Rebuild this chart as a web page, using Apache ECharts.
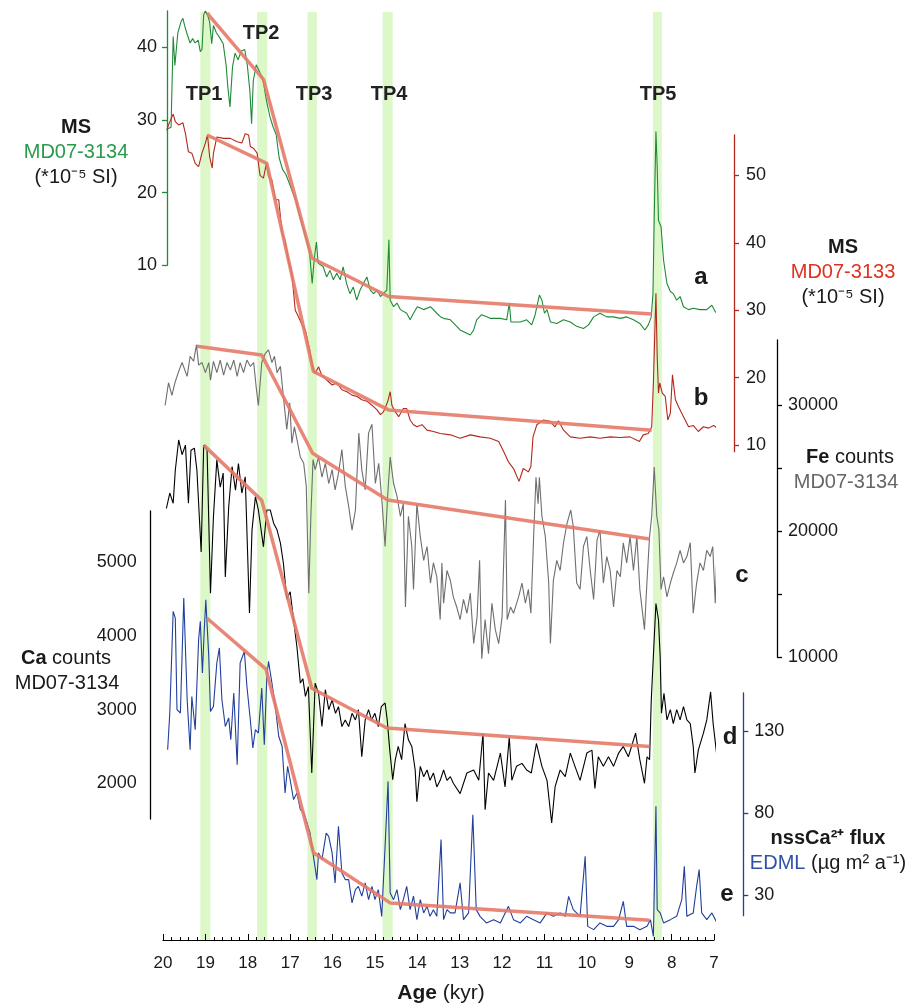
<!DOCTYPE html>
<html><head><meta charset="utf-8">
<script src="https://cdn.jsdelivr.net/npm/echarts@6/dist/echarts.min.js"></script>
<style>html,body{margin:0;padding:0;background:#fff}#c{width:909px;height:1004px}</style>
</head><body><div id="c"></div>
<script>
// ---------- DATA (age in kyr, value) ----------
const xTicks = [7,8,9,10,11,12,13,14,15,16,17,18,19,20];
const tpNames = ['TP1','TP2','TP3','TP4','TP5'];
const tpBands = [[18.88,19.12],[17.54,17.78],[16.37,16.59],[14.58,14.82],[8.23,8.44]];

const msGreen = [[19.89,28.8],[19.81,29.0],[19.76,41.5],[19.72,37.5],[19.65,42.0],[19.57,43.6],[19.53,44.0],[19.49,43.0],[19.43,41.8],[19.36,40.6],[19.30,41.2],[19.24,40.6],[19.17,41.0],[19.12,39.4],[19.08,39.7],[19.04,44.5],[19.00,45.0],[18.95,44.5],[18.90,43.5],[18.85,40.5],[18.81,43.0],[18.74,42.0],[18.66,41.3],[18.58,40.5],[18.51,37.5],[18.47,34.5],[18.42,31.8],[18.36,37.3],[18.30,39.2],[18.23,38.3],[18.15,39.5],[18.07,39.7],[18.01,37.5],[17.95,34.0],[17.91,29.5],[17.87,35.4],[17.80,37.6],[17.72,36.6],[17.64,35.5],[17.56,32.7],[17.48,30.5],[17.40,29.0],[17.33,28.0],[17.26,24.8],[17.18,23.2],[17.10,22.5],[17.02,21.3],[16.94,20.0],[16.86,18.8],[16.78,16.8],[16.70,15.2],[16.62,13.6],[16.54,11.6],[16.48,7.5],[16.43,11.0],[16.38,13.2],[16.34,10.3],[16.22,9.8],[16.14,8.4],[16.06,9.3],[15.98,8.0],[15.90,8.9],[15.82,8.0],[15.75,9.8],[15.67,7.5],[15.59,6.1],[15.51,7.0],[15.43,5.2],[15.35,6.6],[15.27,7.5],[15.19,8.4],[15.11,6.6],[15.03,6.1],[14.95,6.6],[14.87,5.7],[14.80,6.1],[14.72,6.6],[14.67,13.5],[14.64,5.2],[14.56,4.3],[14.48,4.8],[14.40,3.9],[14.25,3.4],[14.17,2.5],[14.09,3.4],[14.00,4.3],[13.85,3.9],[13.69,4.3],[13.54,3.4],[13.45,2.9],[13.38,2.7],[13.22,2.5],[12.99,1.1],[12.75,0.4],[12.67,1.1],[12.60,2.5],[12.48,3.2],[12.28,2.7],[12.04,2.7],[11.89,2.5],[11.83,4.8],[11.79,2.2],[11.57,2.2],[11.42,2.5],[11.30,1.8],[11.22,3.2],[11.12,5.9],[11.06,5.2],[11.00,3.4],[10.94,3.9],[10.86,2.2],[10.71,2.0],[10.55,2.5],[10.39,2.2],[10.24,1.6],[10.08,1.3],[9.96,1.8],[9.84,2.9],[9.69,3.4],[9.53,2.9],[9.37,2.9],[9.21,2.7],[9.06,2.9],[8.90,2.5],[8.75,2.0],[8.63,1.1],[8.55,1.8],[8.48,2.9],[8.44,6.1],[8.41,16.7],[8.37,28.4],[8.34,23.6],[8.31,16.2],[8.25,15.3],[8.19,10.7],[8.11,7.5],[8.03,6.4],[7.96,6.1],[7.88,5.2],[7.80,5.7],[7.72,4.3],[7.60,3.9],[7.49,4.1],[7.33,3.9],[7.17,3.9],[7.05,4.5],[6.97,3.6],[6.86,3.2]];

const msRed = [[19.91,56.7],[19.87,57.5],[19.76,59.1],[19.71,58.0],[19.63,57.5],[19.53,57.8],[19.47,56.2],[19.40,53.5],[19.32,53.3],[19.24,51.8],[19.16,51.3],[19.08,53.3],[19.00,54.8],[18.95,56.0],[18.90,52.8],[18.84,51.1],[18.81,53.3],[18.73,55.7],[18.57,55.5],[18.41,55.5],[18.25,55.0],[18.14,54.8],[18.06,56.2],[17.98,56.0],[17.94,54.3],[17.86,54.0],[17.78,53.3],[17.71,50.0],[17.63,49.6],[17.56,51.8],[17.51,49.8],[17.43,49.3],[17.35,46.4],[17.27,46.4],[17.19,41.4],[17.12,40.4],[17.04,37.4],[16.96,35.4],[16.88,30.0],[16.80,29.0],[16.72,27.8],[16.64,27.0],[16.54,24.1],[16.47,21.6],[16.41,20.6],[16.33,21.6],[16.26,20.4],[16.13,19.6],[16.01,18.9],[15.90,19.2],[15.78,18.2],[15.66,17.9],[15.54,17.4],[15.42,17.2],[15.31,16.7],[15.19,16.5],[15.07,15.9],[14.95,15.2],[14.87,14.5],[14.80,14.9],[14.70,16.4],[14.64,17.9],[14.60,15.9],[14.52,14.9],[14.44,14.2],[14.33,15.4],[14.25,15.4],[14.17,13.7],[14.09,13.0],[14.01,12.7],[13.89,13.0],[13.77,12.2],[13.62,12.0],[13.46,11.7],[13.22,11.5],[12.99,11.0],[12.75,11.5],[12.52,11.2],[12.28,11.0],[12.08,10.5],[11.96,9.0],[11.85,7.5],[11.73,6.5],[11.60,4.6],[11.50,6.5],[11.38,6.0],[11.32,6.8],[11.27,11.2],[11.18,13.0],[11.02,13.7],[10.87,13.5],[10.75,12.7],[10.67,13.6],[10.55,12.2],[10.39,11.2],[10.16,11.0],[9.92,11.2],[9.69,11.0],[9.45,11.2],[9.22,11.1],[8.98,11.2],[8.76,10.5],[8.67,11.5],[8.55,11.7],[8.47,12.7],[8.43,19.2],[8.37,32.5],[8.34,23.1],[8.31,17.7],[8.28,19.2],[8.22,17.7],[8.15,17.2],[8.09,13.7],[8.03,14.7],[7.98,20.4],[7.91,16.7],[7.84,15.7],[7.72,14.2],[7.60,12.7],[7.49,12.9],[7.37,12.0],[7.25,12.7],[7.13,12.5],[7.01,12.9],[6.86,12.2]];

const feCounts = [[19.95,30000],[19.87,31800],[19.79,30800],[19.71,31900],[19.63,32700],[19.55,33400],[19.43,32300],[19.36,33900],[19.28,33500],[19.21,34800],[19.16,33200],[19.08,33400],[19.00,32600],[18.92,33400],[18.88,32000],[18.81,33500],[18.73,32600],[18.65,33600],[18.57,32400],[18.49,33400],[18.41,32800],[18.33,33600],[18.25,32300],[18.18,33400],[18.10,32600],[18.02,33600],[17.94,33100],[17.86,33400],[17.80,31400],[17.75,30000],[17.67,33400],[17.59,34100],[17.51,34400],[17.43,33400],[17.37,33900],[17.31,32600],[17.23,33100],[17.16,30700],[17.08,28100],[17.01,30200],[16.96,27000],[16.90,28300],[16.84,27300],[16.76,25900],[16.68,25400],[16.62,23600],[16.56,15100],[16.51,21400],[16.46,25700],[16.41,24900],[16.33,25900],[16.25,24300],[16.17,25400],[16.09,23800],[16.01,24900],[15.94,23300],[15.86,24600],[15.78,26500],[15.70,23600],[15.62,22000],[15.54,20100],[15.46,21700],[15.38,27800],[15.31,24900],[15.23,23300],[15.15,27800],[15.07,28500],[14.99,23800],[14.91,25400],[14.83,22200],[14.76,18800],[14.70,22800],[14.64,25900],[14.56,23800],[14.48,22800],[14.40,21200],[14.33,22200],[14.28,14000],[14.21,21200],[14.13,18800],[14.09,15400],[14.01,22200],[13.93,19600],[13.85,17700],[13.77,18800],[13.69,15900],[13.62,17500],[13.54,16400],[13.46,13000],[13.42,17500],[13.38,14300],[13.30,16900],[13.22,16100],[13.15,14800],[13.07,14000],[12.99,13000],[12.91,14600],[12.83,13500],[12.75,15100],[12.67,11100],[12.59,13200],[12.53,17700],[12.48,9900],[12.40,13000],[12.32,10300],[12.24,14300],[12.16,12200],[12.08,11100],[12.00,13200],[11.92,22500],[11.88,13000],[11.80,14000],[11.73,13500],[11.61,14800],[11.53,15900],[11.45,14300],[11.38,15400],[11.32,13500],[11.25,20100],[11.20,24300],[11.15,22200],[11.12,24300],[11.06,21200],[10.98,19600],[10.90,15900],[10.86,11100],[10.79,16100],[10.71,17700],[10.63,16900],[10.55,19100],[10.47,20600],[10.38,21700],[10.32,20400],[10.24,15900],[10.16,15400],[10.08,18800],[10.00,19600],[9.92,16900],[9.84,14600],[9.76,19300],[9.69,20100],[9.61,15900],[9.53,18000],[9.45,16900],[9.37,14000],[9.29,16900],[9.21,16400],[9.14,19100],[9.06,17500],[8.98,19600],[8.90,16900],[8.82,19600],[8.75,15400],[8.64,12200],[8.58,16100],[8.52,19600],[8.47,21200],[8.41,25100],[8.35,21200],[8.30,20100],[8.25,15400],[8.19,16400],[8.11,14800],[8.03,15900],[7.96,16700],[7.88,17500],[7.80,18500],[7.72,17500],[7.64,18000],[7.56,19100],[7.49,13500],[7.41,15900],[7.33,17500],[7.25,16900],[7.17,18500],[7.09,18000],[7.03,18800],[6.97,14300],[6.94,17500],[6.87,18900]];

const caCounts = [[19.92,5730],[19.84,5940],[19.76,5800],[19.71,6250],[19.63,6660],[19.55,6460],[19.47,6590],[19.40,5800],[19.34,6520],[19.26,6550],[19.20,6250],[19.10,5140],[19.04,6590],[18.96,6520],[18.88,4580],[18.81,5620],[18.73,6390],[18.65,6020],[18.58,6210],[18.53,4800],[18.45,5750],[18.37,6300],[18.29,5980],[18.22,6340],[18.14,5940],[18.06,6160],[17.96,4310],[17.90,5440],[17.82,5890],[17.75,5710],[17.63,5210],[17.55,5710],[17.47,5710],[17.39,5530],[17.31,5440],[17.23,5260],[17.16,4990],[17.08,4500],[17.00,4600],[16.92,4220],[16.84,3850],[16.76,3360],[16.70,3420],[16.64,3180],[16.57,3310],[16.49,2140],[16.41,3360],[16.33,3220],[16.25,2770],[16.17,3270],[16.09,3000],[16.01,3130],[15.93,2950],[15.86,3040],[15.78,2770],[15.70,2860],[15.62,2770],[15.54,2950],[15.46,2860],[15.39,3000],[15.31,2360],[15.23,2860],[15.15,3000],[15.08,2860],[15.00,2950],[14.92,2770],[14.85,3040],[14.76,3090],[14.71,2860],[14.65,2450],[14.58,2050],[14.52,2320],[14.45,2500],[14.37,2320],[14.29,2810],[14.21,2590],[14.13,2500],[14.05,2180],[14.01,1750],[13.93,2230],[13.85,2090],[13.77,2180],[13.70,2040],[13.62,2140],[13.54,1950],[13.46,2040],[13.38,2180],[13.30,2040],[13.22,2090],[13.15,2000],[12.99,1860],[12.83,2140],[12.67,2180],[12.55,2040],[12.45,2680],[12.40,1640],[12.32,2140],[12.20,2040],[12.04,2410],[11.93,1950],[11.83,2630],[11.77,2040],[11.66,2230],[11.53,2270],[11.42,2180],[11.31,2140],[11.19,2540],[11.06,2230],[10.94,2040],[10.83,1460],[10.75,1950],[10.63,2180],[10.51,2090],[10.39,2410],[10.28,2230],[10.16,2040],[10.00,2410],[9.88,2450],[9.81,1930],[9.73,2360],[9.61,2230],[9.49,2360],[9.37,2230],[9.25,2410],[9.14,2500],[9.02,2360],[8.85,2680],[8.75,2320],[8.64,2000],[8.58,2360],[8.52,2320],[8.48,3130],[8.42,3850],[8.37,4440],[8.31,4220],[8.27,3720],[8.24,2950],[8.18,3220],[8.11,2860],[8.03,3000],[7.96,2810],[7.88,3000],[7.80,2860],[7.72,3040],[7.64,2860],[7.56,2810],[7.49,2500],[7.45,2140],[7.37,2450],[7.25,2680],[7.17,2860],[7.08,3240],[7.02,2810],[6.94,2410],[6.86,3000]];

const nssCaFlux = [[19.89,118.8],[19.84,141.2],[19.76,203.2],[19.71,199.1],[19.67,143.2],[19.59,141.2],[19.51,211.3],[19.43,149.3],[19.36,118.8],[19.32,151.3],[19.24,131.0],[19.16,185.9],[19.12,197.1],[19.07,165.6],[19.03,190.0],[18.99,210.3],[18.92,175.7],[18.88,142.2],[18.81,145.2],[18.73,171.7],[18.67,180.9],[18.61,149.3],[18.53,133.0],[18.45,138.2],[18.40,125.0],[18.33,153.4],[18.25,109.7],[18.18,171.7],[18.08,178.8],[18.02,157.4],[17.94,137.1],[17.88,119.9],[17.82,131.0],[17.75,129.0],[17.67,156.5],[17.61,121.9],[17.55,163.5],[17.51,172.7],[17.43,159.5],[17.35,145.2],[17.27,127.0],[17.19,120.9],[17.12,92.4],[17.06,108.7],[17.00,100.5],[16.92,88.4],[16.84,92.4],[16.76,82.3],[16.68,80.3],[16.60,74.1],[16.53,68.0],[16.45,53.8],[16.37,39.6],[16.33,55.9],[16.25,51.8],[16.15,68.0],[16.09,66.0],[16.01,55.9],[15.94,37.6],[15.86,72.1],[15.78,43.7],[15.70,39.6],[15.62,39.6],[15.54,25.4],[15.46,33.5],[15.39,35.5],[15.31,29.5],[15.23,37.6],[15.15,27.4],[15.07,35.5],[15.00,27.4],[14.92,33.5],[14.84,17.2],[14.76,59.9],[14.69,99.5],[14.64,31.5],[14.56,27.4],[14.48,33.5],[14.40,21.3],[14.33,27.4],[14.25,35.5],[14.17,21.3],[14.09,29.5],[14.01,15.2],[13.93,27.4],[13.85,19.3],[13.77,23.3],[13.70,17.2],[13.62,21.3],[13.54,17.2],[13.44,64.0],[13.38,15.2],[13.30,21.3],[13.22,19.3],[13.11,19.3],[12.99,37.6],[12.91,15.2],[12.79,19.3],[12.69,79.2],[12.61,21.3],[12.52,17.2],[12.37,13.2],[12.20,15.2],[12.04,13.2],[11.85,23.3],[11.73,15.2],[11.57,13.2],[11.42,17.2],[11.26,15.2],[11.10,13.2],[10.94,19.3],[10.79,17.2],[10.63,19.3],[10.51,17.2],[10.43,29.4],[10.32,21.3],[10.16,17.2],[10.04,53.8],[9.98,11.1],[9.84,9.1],[9.69,13.2],[9.53,11.1],[9.37,11.1],[9.25,15.2],[9.14,26.3],[9.06,11.1],[8.90,11.1],[8.75,9.1],[8.58,11.1],[8.50,15.2],[8.43,5.0],[8.37,84.3],[8.34,21.3],[8.27,19.3],[8.19,13.2],[8.03,15.2],[7.88,17.2],[7.76,27.4],[7.70,47.7],[7.64,17.2],[7.49,19.3],[7.41,35.5],[7.35,45.7],[7.29,19.3],[7.17,15.2],[7.05,19.3],[6.93,13.2],[6.86,18.2]];

const trendGreen = [[18.96,44.7],[17.63,35.6],[16.49,11.0],[14.68,5.7],[8.47,3.3]];
const trendRed = [[18.96,56.0],[17.55,51.8],[16.45,20.9],[14.68,15.2],[8.47,12.2]];
const trendFe = [[19.2,34700],[17.67,34000],[16.47,26200],[14.7,22500],[8.52,19400]];
const trendCa = [[19.04,6590],[17.67,5840],[16.49,3290],[14.72,2750],[8.52,2500]];
const trendBlue = [[18.96,199],[17.57,168],[16.45,56],[14.64,25.4],[8.52,14.8]];

const greenTicks = [10,20,30,40];
const redTicks = [10,20,30,40,50];
const feTicks = [10000,15000,20000,25000,30000];
const feLabels = [10000,20000,30000];
const caLabels = [2000,3000,4000,5000];
const blueTicks = [30,80,130];

// ---------- STYLE ----------
const FONT = "'Liberation Sans', Arial, Helvetica, sans-serif";
const C = {green:'#1f8a38', greenTxt:'#2a9a4a', red:'#b3281b', redTxt:'#e0301e', gray:'#6f6f6f', grayTxt:'#666666',
  black:'#000000', blue:'#213f9b', blueTxt:'#3050a8', trend:'#e57a68', band:'#dcf8c8', txt:'#1a1a1a'};
const TICKFS = 18;
const plain = v => String(v);

const L = 163, W = 551;
const grids = [
  {left:L, width:W, top:12, height:928},     // 0 main x axis + bands
  {left:L, width:W, top:11, height:254.3},   // 1 green MS
  {left:L, width:W, top:135, height:316.7},  // 2 red MS
  {left:L, width:W, top:340, height:317.4},  // 3 Fe
  {left:L, width:W, top:511, height:308},    // 4 Ca
  {left:L, width:W, top:693, height:222.7}   // 5 nssCa
];
const xAxes = grids.map((g,i)=>({
  gridIndex:i, type:'value', min:7, max:20, interval:1, inverse:true, show: i===0,
  axisLine:{show:i===0, lineStyle:{color:'#000', width:1.2}},
  axisTick:{show:i===0, inside:true, length:6, lineStyle:{color:'#000'}},
  minorTick:{show:i===0, splitNumber:5, length:3, lineStyle:{color:'#000'}},
  splitLine:{show:false}, minorSplitLine:{show:false},
  axisLabel:{show:i===0, margin:15, fontSize:17, color:C.txt, fontFamily:FONT, formatter:plain}
}));
function yAx(gi, min, max, pos, offset, color, ticks, labels, margin, tickShow){
  return {gridIndex:gi, type:'value', min, max, position:pos, offset,
    axisLine:{show:true, onZero:false, lineStyle:{color, width:1.3}},
    axisTick:{show:tickShow, length:5, customValues:ticks, lineStyle:{color, width:1.3}},
    axisLabel:{show:true, customValues:labels, margin, fontSize:TICKFS, color:C.txt, fontFamily:FONT, formatter:plain},
    splitLine:{show:false}};
}
const yAxes = [
  {gridIndex:0, type:'value', min:0, max:1, show:false},
  yAx(1, 10, 45, 'left', -4, C.green, greenTicks, greenTicks, 10, true),
  yAx(2, 9, 56, 'right', 20, C.red, redTicks, redTicks, 12, true),
  yAx(3, 10000, 35190, 'right', 63, '#000', feTicks, feLabels, 11, true),
  yAx(4, 1515, 5696, 'left', 12.3, '#000', caLabels, caLabels, 14, false),
  yAx(5, 17.6, 153.4, 'right', 29.3, C.blue, blueTicks, blueTicks, 11, true)
];

function line(gi, data, color, w, z){
  return {type:'line', xAxisIndex:gi, yAxisIndex:gi, data, showSymbol:false, symbol:'none', clip:false,
    lineStyle:{color, width:w}, z, silent:true};
}
function trend(gi, data){
  return {type:'line', xAxisIndex:gi, yAxisIndex:gi, data, showSymbol:false, symbol:'none', clip:false,
    lineStyle:{color:C.trend, width:3.5, opacity:0.9}, z:3, silent:true};
}
const series = [
  {type:'custom', xAxisIndex:0, yAxisIndex:0, data:tpBands, z:0, silent:true, clip:false,
    renderItem:(p, api)=>{
      const a = api.coord([api.value(0), 1]), b = api.coord([api.value(1), 0]);
      return {type:'rect', shape:{x:Math.min(a[0],b[0]), y:a[1], width:Math.abs(b[0]-a[0]), height:b[1]-a[1]}, style:{fill:C.band}};
    }},
  line(1, msGreen, C.green, 1.1, 2),
  line(2, msRed, C.red, 1.1, 2),
  line(3, feCounts, C.gray, 1.1, 2),
  line(4, caCounts, C.black, 1.1, 2),
  line(5, nssCaFlux, C.blue, 1.1, 2),
  trend(1, trendGreen), trend(2, trendRed), trend(3, trendFe), trend(4, trendCa), trend(5, trendBlue)
];

function txt(x, y, text, fs, color, bold, rich){
  return {type:'text', x, y, z:10, silent:true, style:{text, fill:color, fontSize:fs, fontWeight:bold?'bold':'normal',
    fontFamily:FONT, textAlign:'center', textVerticalAlign:'middle', align:'center', verticalAlign:'middle', rich}};
}
const TFS = 20;
const richBase = (fs)=>({b:{fontWeight:'bold', fontSize:fs, fontFamily:FONT, fill:C.txt, color:C.txt},
  n:{fontSize:fs, fontFamily:FONT, fill:C.txt, color:C.txt}, c:{fontSize:fs, fontFamily:FONT, fill:C.blueTxt, color:C.blueTxt}});
const graphics = [
  txt(76,127,'MS',TFS,C.txt,true), txt(76,152,'MD07-3134',TFS,C.greenTxt,false), txt(76,177,'(*10⁻⁵ SI)',TFS,C.txt,false),
  txt(843,247,'MS',TFS,C.txt,true), txt(843,272,'MD07-3133',TFS,C.redTxt,false), txt(843,297,'(*10⁻⁵ SI)',TFS,C.txt,false),
  txt(850,457,'{b|Fe}{n| counts}',TFS,C.txt,false,richBase(TFS)), txt(846,482,'MD07-3134',TFS,C.grayTxt,false),
  txt(66,658,'{b|Ca}{n| counts}',TFS,C.txt,false,richBase(TFS)), txt(67,683,'MD07-3134',TFS,C.txt,false),
  txt(828,838,'nssCa²⁺ flux',TFS,C.txt,true), txt(828,863,'{c|EDML}{n| (µg m² a⁻¹)}',TFS,C.txt,false,richBase(TFS)),
  txt(441,993,'{b|Age}{n| (kyr)}',21,C.txt,false,richBase(21)),
  txt(204,94,'TP1',20,'#222',true), txt(261,33,'TP2',20,'#222',true), txt(314,94,'TP3',20,'#222',true),
  txt(389,94,'TP4',20,'#222',true), txt(658,94,'TP5',20,'#222',true),
  txt(701,277,'a',24,'#1a1a1a',true), txt(701,398,'b',24,'#1a1a1a',true), txt(742,575,'c',24,'#1a1a1a',true),
  txt(730,737,'d',24,'#1a1a1a',true), txt(727,894,'e',24,'#1a1a1a',true)
];

const chart = echarts.init(document.getElementById('c'), null, {renderer:'canvas'});
chart.setOption({animation:false, backgroundColor:'#fff', textStyle:{fontFamily:FONT},
  grid:grids, xAxis:xAxes, yAxis:yAxes, series, graphic:graphics});
</script></body></html>
